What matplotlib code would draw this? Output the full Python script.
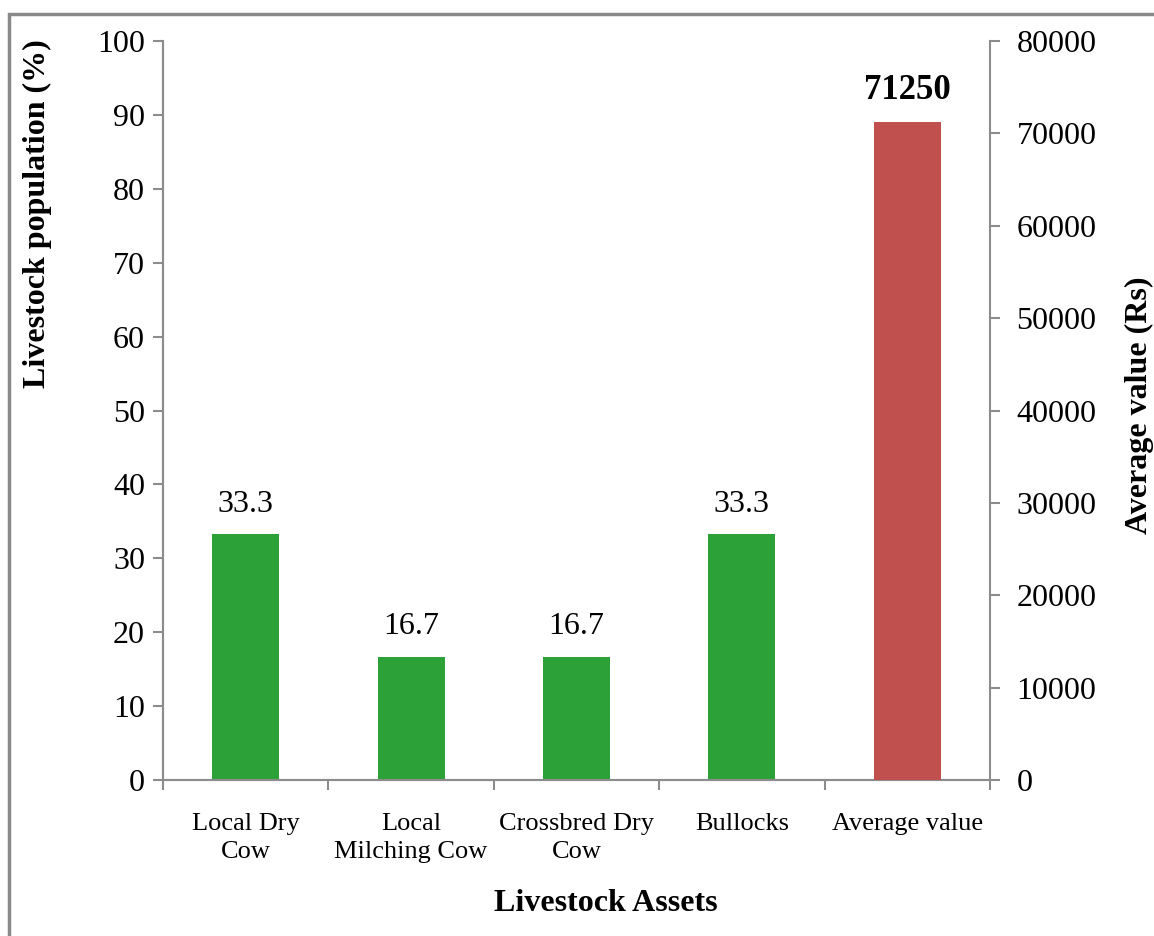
import matplotlib
matplotlib.use("Agg")
import matplotlib.pyplot as plt
from matplotlib.patches import Rectangle
from matplotlib.ticker import FixedLocator

# data
categories = ["Local Dry\nCow", "Local\nMilching Cow", "Crossbred Dry\nCow", "Bullocks", "Average value"]
population_pct = [33.3, 16.7, 16.7, 33.3]
average_value = [71250]

plt.rcParams['font.family'] = ['Liberation Serif', 'DejaVu Serif']

GREEN = '#2ca137'
RED = '#c0504d'
AXIS_GRAY = '#8c8c8c'

fig = plt.figure(figsize=(11.54, 9.36), dpi=100)
ax = fig.add_axes([163/1154, 1 - 780/936, (990-163)/1154, (780-41)/936])
ax2 = ax.twinx()

n = len(categories)
pos_pct = list(range(len(population_pct)))
pos_avg = [len(population_pct)]
bar_w = 0.405

ax.bar(pos_pct, population_pct, width=bar_w, color=GREEN, zorder=3)
ax2.bar(pos_avg, average_value, width=bar_w, color=RED, zorder=3)

for x, v in zip(pos_pct, population_pct):
    ax.annotate(f"{v:.1f}", (x, v), xytext=(0, 11), textcoords='offset points',
                ha='center', va='bottom', fontsize=23)
for x, v in zip(pos_avg, average_value):
    ax2.annotate(f"{v}", (x, v), xytext=(0, 11), textcoords='offset points',
                 ha='center', va='bottom', fontsize=25, fontweight='bold')

ax.set_xlim(-0.5, n - 0.5)
ax.set_ylim(0, 100)
ax2.set_ylim(0, 80000)
ax.set_yticks(range(0, 101, 10))
ax2.set_yticks(range(0, 80001, 10000))

# category ticks between groups, labels at centres
ax.xaxis.set_major_locator(FixedLocator([i - 0.5 for i in range(n + 1)]))
ax.xaxis.set_minor_locator(FixedLocator(list(range(n))))
ax.set_xticklabels([''] * (n + 1))
ax.set_xticklabels(categories, minor=True, fontsize=19, linespacing=1.35)
ax.tick_params(axis='x', which='major', direction='out', length=7, width=1.5, color=AXIS_GRAY)
ax.tick_params(axis='x', which='minor', length=0, pad=24)

ax.tick_params(axis='y', direction='out', length=7, width=1.5, color=AXIS_GRAY, labelsize=23, pad=6)
ax2.tick_params(axis='y', direction='out', length=7, width=1.5, color=AXIS_GRAY, labelsize=23, pad=12)

for a in (ax, ax2):
    a.spines['top'].set_visible(False)
    for s in ('left', 'right', 'bottom'):
        a.spines[s].set_color(AXIS_GRAY)
        a.spines[s].set_linewidth(1.5)
ax.spines['right'].set_visible(False)

ax.set_ylabel("Livestock population (%)", fontsize=23, fontweight='bold')
ax.yaxis.set_label_coords(-0.134, 0.766)
ax2.set_ylabel("Average value (Rs)", fontsize=23, fontweight='bold')
ax2.yaxis.set_label_coords(1.163, 0.507)
ax.set_xlabel("Livestock Assets", fontsize=23, fontweight='bold')
ax.xaxis.set_label_coords(0.535, -0.147)

# chart-area border like the original export
fig.patches.append(Rectangle((9/1154, -0.05), 1.2, 1 - 14/936 + 0.05, transform=fig.transFigure,
                             fill=False, edgecolor='#8a8a8a', linewidth=2.5, clip_on=False))

fig.savefig("out.png", dpi=100)
